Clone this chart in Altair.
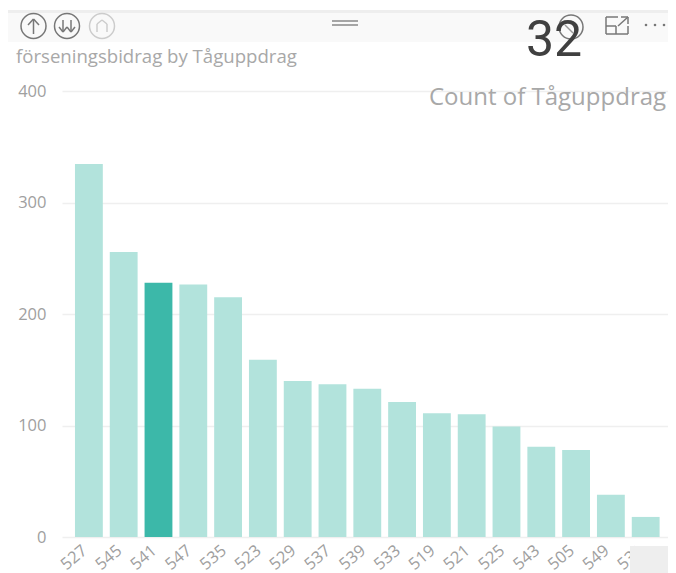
import altair as alt
import pandas as pd

trains = ["527","545","541","547","535","523","529","537","539","533","519","521","525","543","505","549","531"]
values = [334.5,255.5,228,226.5,215,159,140,137,133,121,111,110,99,81,78,38,18]
highlighted = "541"
y_ticks = [0,100,200,300,400]
title_text = "förseningsbidrag by Tåguppdrag"
card_value = "32"
card_label = "Count of Tåguppdrag"

LIGHT = "#B2E3DC"
DARK = "#3CB8A9"
GREY = "#A0A0A0"
FONT = "Open Sans"

OX, OY = 62, 91
one = alt.Data(values=[{"a": 1}])

def X(v): return alt.value(v - OX)
def Y(v): return alt.value(v - OY)

def rect(x1, x2, y1, y2, color):
    return alt.Chart(one).mark_rect(color=color, clip=False).encode(x=X(x1), x2=X(x2), y=Y(y1), y2=Y(y2))

def rule(x1, y1, x2, y2, color="#777777", w=1.5):
    return alt.Chart(one).mark_rule(color=color, strokeWidth=w, clip=False).encode(x=X(x1), x2=X(x2), y=Y(y1), y2=Y(y2))

def ring(x, y, d, color="#777777", w=1.5):
    return alt.Chart(one).mark_point(shape="circle", filled=False, color=color, strokeWidth=w, size=d * d, opacity=1, clip=False).encode(x=X(x), y=Y(y))

def dot(x, y, color="#777777"):
    return alt.Chart(one).mark_point(shape="circle", filled=True, color=color, size=7, opacity=1, clip=False).encode(x=X(x), y=Y(y))

def text(s, x, y, size, color, align="left", font=FONT):
    return alt.Chart(one).mark_text(text=s, fontSize=size, color=color, align=align, baseline="alphabetic", font=font, clip=False).encode(x=X(x), y=Y(y))

df = pd.DataFrame({"train": trains, "value": values})
df["sel"] = df["train"].eq(highlighted)

bars = alt.Chart(df).mark_bar().encode(
    x=alt.X("train:N", sort=trains, title=None,
            scale=alt.Scale(paddingInner=0.2, paddingOuter=0.307, align=0.607),
            axis=alt.Axis(labelAngle=-40, labelAlign="right", labelBaseline="top", labelColor=GREY, labelFontSize=16.5, labelFont=FONT,
                          domain=False, ticks=False, labelPadding=5, labelOffset=-9, labelOverlap=False, grid=False)),
    y=alt.Y("value:Q", title=None, scale=alt.Scale(domain=[0, 400], nice=False),
            axis=alt.Axis(values=y_ticks, labelColor=GREY, labelFontSize=16.5, labelFont=FONT,
                          domain=False, ticks=False, labelPadding=16, grid=True, gridColor="#EFEFEF", gridWidth=1.5)),
    color=alt.Color("sel:N", scale=alt.Scale(domain=[False, True], range=[LIGHT, DARK]), legend=None),
)

chrome_back = [
    rect(8, 668, 13, 42, "#F9F9F9"),
    rect(8, 668, 10, 13, "#EEEEEE"),
]
chrome_front = [
    ring(33.5, 26, 25), rule(33.5, 19, 33.5, 34), rule(33.5, 19, 28, 25), rule(33.5, 19, 39, 25),
    ring(67, 26, 25), rule(63, 20, 63, 32), rule(71, 20, 71, 32), rule(59, 27, 63, 32), rule(67, 27, 63, 32), rule(67, 27, 71, 32), rule(75, 27, 71, 32),
    ring(102, 26, 25, "#CCCCCC"), rule(97, 24, 97, 32, "#CCCCCC"), rule(107, 24, 107, 32, "#CCCCCC"), rule(97, 24, 102, 20, "#CCCCCC"), rule(107, 24, 102, 20, "#CCCCCC"),
    rule(332, 21, 358, 21, "#888888"), rule(332, 25, 358, 25, "#888888"),
    ring(571, 27, 24), rule(565, 25, 573, 33, "#999999"),
    rule(606, 17, 606, 34), rule(606, 34, 628, 34), rule(628, 34, 628, 26), rule(606, 17, 618, 17),
    rule(606, 26, 616, 26), rule(616, 26, 616, 34), rule(618, 26, 628, 17), rule(621, 17, 628, 17), rule(628, 17, 628, 24),
    dot(646, 25), dot(655, 25), dot(664, 25),
    text(card_value, 526, 56, 50, "#404040", font="Roboto"),
    text(title_text, 16, 63, 18.6, "#A8A8A8"),
    text(card_label, 429, 105, 24, "#A8A8A8"),
    rect(630, 668, 546, 573, "#EEEEEE"),
]

chart = alt.layer(*chrome_back, bars, *chrome_front).properties(
    width=606, height=446,
    autosize=alt.AutoSizeParams(type="none"),
    padding={"left": 54, "top": 83, "right": 0, "bottom": 36},
).configure_view(stroke=None)

chart.save("out.html", embed_options={"renderer": "svg", "actions": False})
